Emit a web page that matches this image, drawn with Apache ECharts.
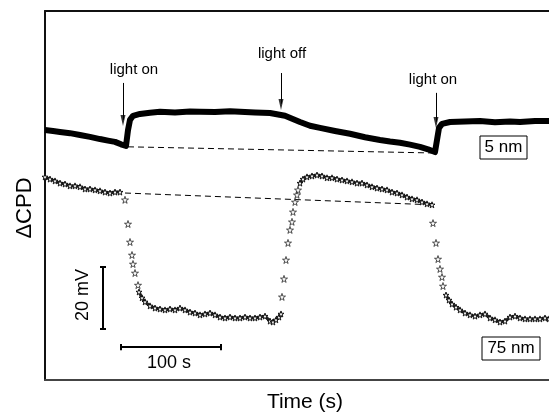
<!DOCTYPE html>
<html>
<head>
<meta charset="utf-8">
<script src="https://cdn.jsdelivr.net/npm/echarts@6/dist/echarts.min.js"></script>
<style>
html, body { margin: 0; padding: 0; background: #fff; }
#chart { width: 549px; height: 414px; }
</style>
</head>
<body>
<div id="chart"></div>
<script>
// x: time (s), y: ΔCPD (mV, arbitrary offset)
const cpd5nm = [
  [0, 80.6], [8, 80.3], [15, 80.0], [25, 79.6], [35, 79.0], [45, 78.4], [55, 77.7], [63, 77.2],
  [70, 76.8], [76, 76.0], [81, 75.5], [83, 80.6], [85, 83.9], [88, 85.2], [95, 85.8], [105, 86.2],
  [115, 86.5], [130, 86.3], [145, 86.6], [155, 86.5], [170, 86.4], [185, 86.7], [195, 86.5],
  [210, 86.3], [225, 86.1], [240, 85.2], [255, 83.2], [265, 82.0], [275, 81.3], [290, 80.3],
  [305, 79.4], [320, 78.3], [335, 77.4], [345, 76.9], [355, 76.5], [365, 75.9], [375, 75.2],
  [383, 74.4], [390, 73.5], [392, 77.4], [394, 81.3], [397, 82.6], [405, 83.2], [420, 83.4],
  [435, 83.5], [450, 83.1], [465, 83.4], [475, 83.2], [490, 83.5], [504, 83.5]
]

// 75 nm: densely sampled stretches
const cpd75nmA = [
  [0, 65.5], [5, 64.8], [10, 64.2], [15, 63.5], [20, 63.2], [25, 62.6], [30, 62.6], [35, 62.3],
  [40, 61.6], [45, 61.6], [50, 61.3], [55, 61.0], [60, 60.6], [65, 60.3], [70, 60.6], [75, 60.6]
]
const cpd75nmB = [
  [94, 28.4], [97, 26.5], [100, 25.2], [105, 23.9], [110, 23.2], [115, 22.9], [120, 22.6],
  [125, 22.9], [130, 22.6], [135, 23.2], [140, 22.6], [145, 21.9], [150, 21.6], [155, 21.0],
  [160, 21.3], [165, 21.6], [170, 21.0], [175, 20.3], [180, 20.0], [185, 20.3], [190, 20.0],
  [195, 20.0], [200, 20.3], [205, 20.0], [210, 20.0], [215, 20.3], [220, 20.6], [225, 19.0],
  [228, 18.7], [231, 19.4], [234, 20.3], [236, 21.3]
]
const cpd75nmC = [
  [255, 63.5], [258, 64.8], [262, 65.5], [267, 65.8], [272, 66.1], [277, 65.8], [282, 65.2],
  [287, 65.2], [292, 64.8], [297, 64.5], [302, 64.2], [307, 63.9], [312, 63.5], [317, 63.5],
  [322, 62.9], [327, 62.3], [332, 61.9], [337, 61.6], [342, 61.3], [347, 60.6], [352, 60.3],
  [357, 59.7], [362, 59.0], [367, 58.4], [372, 58.1], [377, 57.4], [382, 56.8], [387, 56.5]
]
const cpd75nmD = [
  [401, 27.4], [404, 25.8], [407, 24.5], [411, 23.5], [415, 22.6], [420, 21.6], [425, 21.0],
  [430, 20.6], [435, 21.0], [440, 21.3], [445, 20.0], [450, 19.4], [455, 18.7], [460, 19.0],
  [465, 20.3], [470, 20.6], [475, 20.0], [480, 19.7], [485, 19.7], [490, 19.7], [495, 19.7],
  [500, 20.0], [504, 19.7]
]
// 75 nm: sparse points during the fast transitions
const cpd75nmSparse = [
  [80, 58.1], [83, 50.3], [85, 44.5], [87, 40.3], [88, 37.4], [90, 34.5], [93, 30.6],
  [237, 26.8], [239, 32.6], [241, 38.7], [243, 44.2], [245, 48.4], [247, 51.0], [248, 54.2],
  [250, 57.4], [252, 59.7], [253, 61.3],
  [388, 50.6], [391, 44.2], [393, 39.0], [395, 35.8], [397, 33.2], [398, 30.3]
]

// dashed baselines
const base5nm = [[83, 75.2], [390, 73.2]]
const base75nm = [[80, 60.3], [387, 56.5]]

// light on/off arrows: [time, top, tip]
const arrows = [[78, 95.8, 81.9], [236, 99.0, 87.1], [391, 92.6, 81.3]]

// scale bars
const barV = { t: 58, from: 16.5, to: 36.5 }   // 20 mV
const barH = { v: 10.6, from: 76, to: 176 }     // 100 s

const FONT = "'Liberation Sans', Arial, sans-serif"
const STAR = 'path://M50,0 L61,35 L98,35 L68,57 L79,91 L50,70 L21,91 L32,57 L2,35 L39,35 Z'

const chart = echarts.init(document.getElementById('chart'))

const denseSeries = [cpd75nmA, cpd75nmB, cpd75nmC, cpd75nmD].map((d) => ({
  type: 'line',
  data: d,
  symbol: STAR,
  symbolSize: 6,
  showAllSymbol: true,
  lineStyle: { color: '#222', width: 3 },
  itemStyle: { color: '#fff', borderColor: '#111', borderWidth: 1 },
  silent: true,
  z: 3
}))

const scaleLines = [
  [{ coord: [barV.t, barV.from] }, { coord: [barV.t, barV.to] }],
  [{ coord: [barV.t - 3, barV.from] }, { coord: [barV.t + 3, barV.from] }],
  [{ coord: [barV.t - 3, barV.to] }, { coord: [barV.t + 3, barV.to] }],
  [{ coord: [barH.from, barH.v] }, { coord: [barH.to, barH.v] }],
  [{ coord: [barH.from, barH.v - 1] }, { coord: [barH.from, barH.v + 1] }],
  [{ coord: [barH.to, barH.v - 1] }, { coord: [barH.to, barH.v + 1] }]
]

const text = (t, x, y, size, rot) => ({
  type: 'text',
  x: x,
  y: y,
  rotation: rot || 0,
  style: {
    text: t, x: 0, y: 0, fill: '#000', font: size + 'px ' + FONT,
    textAlign: 'center', textVerticalAlign: 'middle', align: 'center', verticalAlign: 'middle'
  }
})

chart.setOption({
  animation: false,
  grid: { left: 45, right: 0, top: 11, bottom: 34 },
  xAxis: [
    {
      type: 'value', min: 0, max: 504, position: 'bottom',
      axisLine: { lineStyle: { color: '#444', width: 2 } },
      axisTick: { show: false }, axisLabel: { show: false }, splitLine: { show: false }
    },
    {
      type: 'value', min: 0, max: 504, position: 'top',
      axisLine: { lineStyle: { color: '#111', width: 2 } },
      axisTick: { show: false }, axisLabel: { show: false }, splitLine: { show: false }
    }
  ],
  yAxis: {
    type: 'value', min: 0, max: 119,
    axisLine: { show: true, lineStyle: { color: '#111', width: 2 } },
    axisTick: { show: false }, axisLabel: { show: false }, splitLine: { show: false }
  },
  series: [
    {
      type: 'line',
      data: base5nm,
      symbol: 'none',
      lineStyle: { color: '#000', width: 1, type: [6, 4] },
      z: 1
    },
    {
      type: 'line',
      data: base75nm,
      symbol: 'none',
      lineStyle: { color: '#000', width: 1, type: [6, 4] },
      z: 1
    },
    {
      type: 'line',
      data: cpd5nm,
      symbol: 'none',
      lineStyle: { color: '#000', width: 6, join: 'round' },
      z: 2
    },
    ...denseSeries,
    {
      type: 'scatter',
      data: cpd75nmSparse,
      symbol: STAR,
      symbolSize: 7,
      itemStyle: { color: '#fff', borderColor: '#111', borderWidth: 0.9 },
      z: 3
    },
    {
      // arrow heads
      type: 'scatter',
      data: arrows.map((a) => [a[0], a[2]]),
      symbol: 'path://M0,0 L10,0 L5,22 Z',
      symbolSize: [5, 11],
      symbolOffset: [0, -5.5],
      itemStyle: { color: '#000' },
      z: 4,
      markLine: {
        silent: true,
        symbol: 'none',
        label: { show: false },
        lineStyle: { color: '#000', width: 1, type: 'solid' },
        data: arrows.map((a) => [{ coord: [a[0], a[1]] }, { coord: [a[0], a[2] + 2] }])
      }
    },
    {
      // scale bars
      type: 'line',
      data: [],
      markLine: {
        silent: true,
        symbol: 'none',
        label: { show: false },
        animation: false,
        lineStyle: { color: '#000', width: 2, type: 'solid' },
        data: scaleLines
      }
    }
  ],
  graphic: [
    text('light on', 134, 70, 15),
    text('light off', 282, 54, 15),
    text('light on', 433, 80, 15),
    text('ΔCPD', 25, 208, 22, Math.PI / 2),
    text('Time (s)', 305, 402, 21),
    text('20 mV', 83, 295, 18, Math.PI / 2),
    text('100 s', 169, 363, 18),
    { type: 'rect', shape: { x: 480, y: 136, width: 47, height: 23 }, style: { fill: '#fff', stroke: '#000', lineWidth: 1 } },
    text('5 nm', 503.5, 147.5, 17),
    { type: 'rect', shape: { x: 482, y: 337, width: 58, height: 23 }, style: { fill: '#fff', stroke: '#000', lineWidth: 1 } },
    text('75 nm', 511, 348.5, 17)
  ]
})
</script>
</body>
</html>
